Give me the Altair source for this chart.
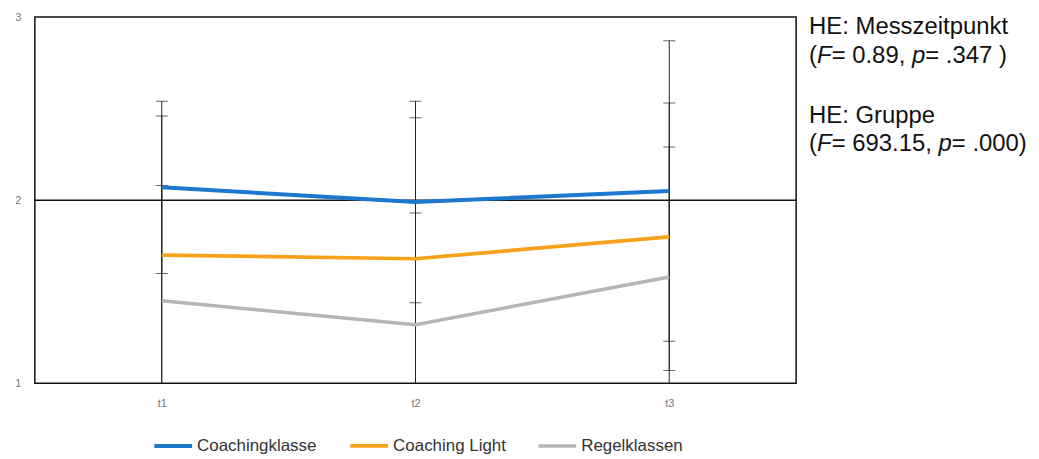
import altair as alt
import pandas as pd

# ---- data ----
times = ["t1", "t2", "t3"]
groups = ["Coachingklasse", "Coaching Light", "Regelklassen"]
mean_coaching = [2.07, 1.99, 2.05]
mean_light = [1.70, 1.68, 1.80]
mean_regel = [1.45, 1.32, 1.58]
sd_coaching = [0.47, 0.55, 0.82]
sd_light = [0.76, 0.77, 0.73]
sd_regel = [0.63, 0.61, 0.71]
y_ticks = [1, 2, 3]
ref_line = [2]

colors = ["#1f78d0", "#f8a21c", "#b5b5b5"]
widths = [4, 3.5, 2.5]

rows = []
for g, ms, ss in [(groups[0], mean_coaching, sd_coaching),
                  (groups[1], mean_light, sd_light),
                  (groups[2], mean_regel, sd_regel)]:
    for t, m, s in zip(times, ms, ss):
        rows.append({"time": t, "group": g, "mean": m, "lo": m - s, "hi": m + s})
df = pd.DataFrame(rows)
ref_df = pd.DataFrame({"v": ref_line})

FONT = "Liberation Sans"
xscale = alt.Scale(type="point", padding=0.5, domain=times)
yscale = alt.Scale(domain=[1, 3], nice=False, zero=False)

x_axis = alt.Axis(title=None, labelAngle=0, ticks=False, domain=False, grid=False,
                  labelPadding=14, labelColor="#777", labelFontSize=11, labelFont=FONT)
y_axis = alt.Axis(title=None, tickCount=len(y_ticks) - 1, ticks=False, domain=False,
                  grid=False, labelOverlap=False,
                  labelPadding=14, labelColor="#777", labelFontSize=11,
                  labelFont=FONT, format="d")

def X():
    return alt.X("time:N", scale=xscale, sort=times, axis=x_axis)

def Y(field):
    return alt.Y(field, scale=yscale, axis=y_axis)

base = alt.Chart(df)

ref = alt.Chart(ref_df).mark_rule(color="#111", strokeWidth=1.5).encode(y=Y("v:Q"))

rules = base.mark_rule(color="#222", strokeWidth=1, clip=True).encode(
    x=X(), y=Y("lo:Q"), y2="hi:Q")
caps_hi = base.mark_tick(color="#222", thickness=1, size=12, orient="horizontal", clip=True).encode(
    x=X(), y=Y("hi:Q"))
caps_lo = base.mark_tick(color="#222", thickness=1, size=12, orient="horizontal", clip=True).encode(
    x=X(), y=Y("lo:Q"))

lines = base.mark_line().encode(
    x=X(), y=Y("mean:Q"),
    color=alt.Color("group:N", sort=groups,
                    scale=alt.Scale(domain=groups, range=colors),
                    legend=alt.Legend(title=None, orient="none", direction="horizontal",
                                      legendX=118, legendY=410, padding=0,
                                      symbolType="stroke", symbolStrokeWidth=3,
                                      symbolSize=1444, labelFontSize=17,
                                      labelColor="#333", labelFont=FONT,
                                      labelOffset=3, columnPadding=25)),
    strokeWidth=alt.StrokeWidth("group:N", sort=groups,
                                scale=alt.Scale(domain=groups, range=widths),
                                legend=None),
    order=alt.Order("time:N"),
)

# ---- annotation text (mixed italic) ----
AW = {"(": 333, ")": 333, "F": 611, "=": 584, " ": 278, ",": 278, ".": 278, "p": 556}
for d in "0123456789":
    AW[d] = 556

def wid(s, fs):
    return sum(AW.get(c, 556) for c in s) * fs / 1000.0

FS = 24
X0 = 778
ann_lines = [
    ([("HE: Messzeitpunkt", False)], 17),
    ([("(", False), ("F", True), ("= 0.89, ", False), ("p", True), ("= .347 )", False)], 46),
    ([("HE: Gruppe", False)], 106),
    ([("(", False), ("F", True), ("= 693.15, ", False), ("p", True), ("= .000)", False)], 135),
]
ann_layers = []
for segs, yb in ann_lines:
    x = X0
    for s, it in segs:
        ann_layers.append(
            alt.Chart(ref_df).mark_text(
                align="left", baseline="alphabetic", font=FONT, fontSize=FS,
                fontStyle="italic" if it else "normal", color="#111", text=s
            ).encode(x=alt.value(x), y=alt.value(yb))
        )
        x += wid(s, FS)

chart = alt.layer(ref, rules, caps_hi, caps_lo, lines, *ann_layers).properties(
    width=765, height=368,
    background="white",
    autosize=alt.AutoSizeParams(type="none"),
    padding={"left": 27, "top": 8, "right": 236, "bottom": 70},
).configure_view(stroke="#111", strokeWidth=1.5)

chart.save("out.html", embed_options={"renderer": "svg", "actions": False})
